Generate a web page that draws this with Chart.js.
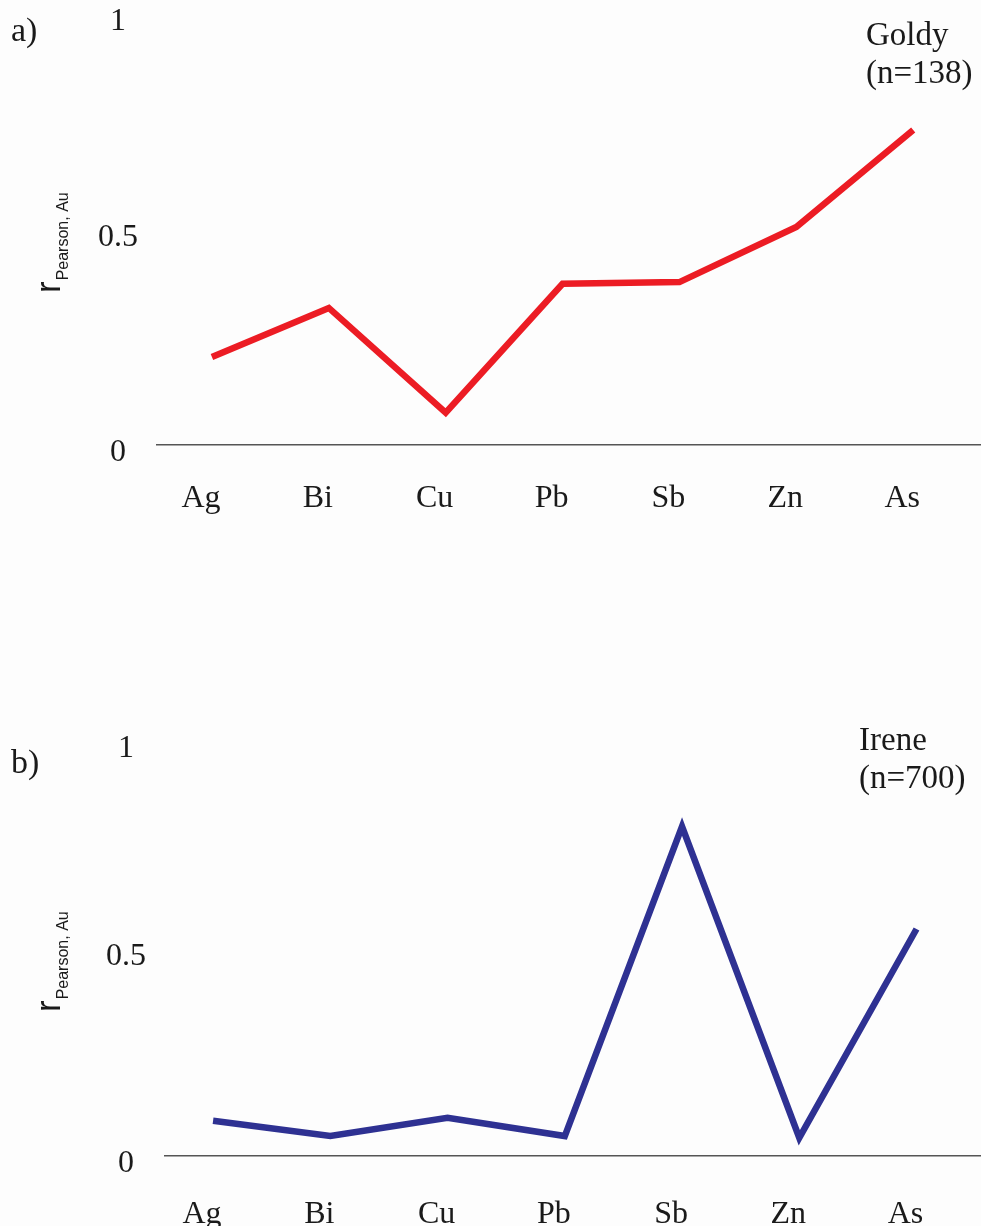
<!DOCTYPE html>
<html>
<head>
<meta charset="utf-8">
<title>Pearson correlation with Au</title>
<script src="https://cdn.jsdelivr.net/npm/chart.js@4/dist/chart.umd.min.js"></script>
<style>
  html, body { margin: 0; padding: 0; background: #fdfdfd; }
  body { width: 981px; height: 1226px; position: relative; overflow: hidden; }
  canvas { position: absolute; left: 0; }
  #chartA { top: 0; }
  #chartB { top: 600px; }
</style>
</head>
<body>
<canvas id="chartA" width="981" height="525"></canvas>
<canvas id="chartB" width="981" height="626"></canvas>
<script>
// Elements correlated against Au
const elements = ['Ag', 'Bi', 'Cu', 'Pb', 'Sb', 'Zn', 'As'];

// r (Pearson) with Au, Goldy deposit
const goldyR = [0.204, 0.318, 0.075, 0.374, 0.378, 0.506, 0.731];
// r (Pearson) with Au, Irene deposit
const ireneR = [0.085, 0.048, 0.092, 0.048, 0.794, 0.044, 0.547];

const yTicks = [0, 0.5, 1];

const SERIF = '"Liberation Serif", "Times New Roman", serif';
const SANS = '"Liberation Sans", Arial, sans-serif';

// Draws the panel letter, the sample label and the rotated r_Pearson,Au title
const panelText = {
  id: 'panelText',
  afterDraw(chart, args, o) {
    const ctx = chart.ctx;
    ctx.save();
    ctx.fillStyle = '#1a1a1a';
    ctx.textBaseline = 'middle';
    ctx.textAlign = 'left';
    ctx.font = '34px ' + SERIF;
    ctx.fillText(o.letter, o.letterX, o.letterY);
    ctx.font = '33px ' + SERIF;
    ctx.fillText(o.name, o.nameX, o.nameY);
    ctx.fillText(o.count, o.nameX, o.nameY + 38);

    // rotated axis title with subscript
    ctx.translate(o.titleX, o.titleY);
    ctx.rotate(-Math.PI / 2);
    ctx.textBaseline = 'alphabetic';
    ctx.font = '35px ' + SANS;
    ctx.fillText('r', 0, 0);
    const rw = ctx.measureText('r').width;
    ctx.font = '16px ' + SANS;
    ctx.fillText('Pearson, Au', rw + 1, 8);
    ctx.restore();
  }
};

function makeChart(id, values, color, o) {
  const points = elements.map((e, i) => ({ x: i, y: values[i] }));
  return new Chart(document.getElementById(id), {
    type: 'line',
    data: {
      datasets: [{
        data: points,
        borderColor: color,
        borderWidth: 6.5,
        pointRadius: 0,
        tension: 0,
        fill: false,
        borderJoinStyle: 'miter',
        borderCapStyle: 'butt'
      }]
    },
    options: {
      responsive: false,
      animation: false,
      events: [],
      layout: { padding: { top: o.top, right: 0, bottom: 0, left: 0 } },
      plugins: {
        legend: { display: false },
        tooltip: { enabled: false },
        panelText: o.text
      },
      scales: {
        x: {
          type: 'linear',
          min: o.xMin,
          max: o.xMax,
          grid: { display: false, drawTicks: false },
          border: { display: true, color: '#555555', width: 1.6 },
          afterBuildTicks: s => { s.ticks = elements.map((e, i) => ({ value: i })); },
          afterFit: s => { s.height = o.xHeight; s.paddingLeft = 0; s.paddingRight = 0; },
          ticks: {
            autoSkip: false,
            maxRotation: 0,
            padding: o.xPad,
            labelOffset: -11,
            color: '#1a1a1a',
            font: { family: SERIF, size: 32 },
            callback: v => elements[v]
          }
        },
        y: {
          min: 0,
          max: 1,
          grid: { display: false, drawTicks: false },
          border: { display: false },
          afterBuildTicks: s => { s.ticks = yTicks.map(v => ({ value: v })); },
          afterFit: s => { s.width = o.yWidth; s.paddingTop = 0; s.paddingBottom = 0; },
          ticks: {
            padding: 19,
            crossAlign: 'center',
            labelOffset: 8,
            color: '#1a1a1a',
            font: { family: SERIF, size: 32 },
            callback: v => String(v)
          }
        }
      }
    },
    plugins: [panelText]
  });
}

makeChart('chartA', goldyR, '#ec1c24', {
  top: 14, xMin: -0.47, xMax: 6.58, xHeight: 80, xPad: 34, yWidth: 157,
  text: { letter: 'a)', letterX: 11, letterY: 32, name: 'Goldy', count: '(n=138)',
          nameX: 866, nameY: 36, titleX: 60, titleY: 293 }
});

makeChart('chartB', ireneR, '#2e3192', {
  top: 141, xMin: -0.41, xMax: 6.55, xHeight: 70, xPad: 39, yWidth: 165,
  text: { letter: 'b)', letterX: 11, letterY: 164, name: 'Irene', count: '(n=700)',
          nameX: 859, nameY: 141, titleX: 60, titleY: 412 }
});
</script>
</body>
</html>
